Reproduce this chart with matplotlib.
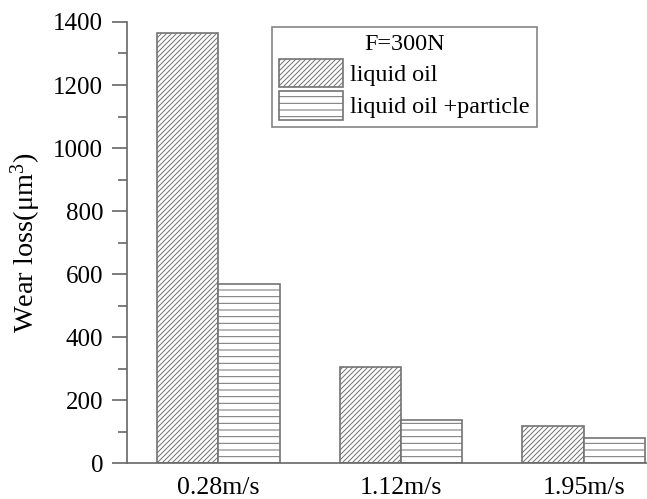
import numpy as np
import matplotlib
matplotlib.use("Agg")
import matplotlib.pyplot as plt
from matplotlib.ticker import MultipleLocator

# wear loss (um^3) at F=300N
speeds = ["0.28m/s", "1.12m/s", "1.95m/s"]
oil = [1365, 305, 119]
oil_particle = [570, 137, 79]
series_names = ["liquid oil", "liquid oil +particle"]

plt.rcParams['font.family'] = ['Liberation Serif', 'DejaVu Serif']
plt.rcParams['mathtext.fontset'] = 'custom'
plt.rcParams['mathtext.rm'] = 'Liberation Serif'
plt.rcParams['mathtext.it'] = 'Liberation Serif'
plt.rcParams['hatch.linewidth'] = 0.6

DPI = 120
fig = plt.figure(figsize=(647 / DPI, 499 / DPI), dpi=DPI)
ax = fig.add_axes([0.1958, 0.0716, 0.8042, 0.8844])

grey = '0.45'
x = np.arange(len(speeds))
w = 0.336
b1 = ax.bar(x - w / 2, oil, w, color='white', edgecolor=grey, hatch='////////',
            linewidth=1.0, label=series_names[0])
b2 = ax.bar(x + w / 2, oil_particle, w, color='white', edgecolor=grey, hatch='---',
            linewidth=1.0, label=series_names[1])

ax.set_xlim(-0.5, 2.345)
ax.set_ylim(0, 1400)
ax.set_xticks(x)
ax.set_xticklabels(speeds)
ax.yaxis.set_major_locator(MultipleLocator(200))
ax.yaxis.set_minor_locator(MultipleLocator(100))

for s in ['top', 'right']:
    ax.spines[s].set_visible(False)
for s in ['left', 'bottom']:
    ax.spines[s].set_color('0.4')
    ax.spines[s].set_linewidth(1.0)

ax.tick_params(axis='y', which='major', length=9, width=1, color='0.4',
               labelsize=15, pad=5)
ax.tick_params(axis='y', which='minor', length=5.4, width=1, color='0.4')
ax.tick_params(axis='x', length=0, labelsize=15.5, pad=8)

ax.set_ylabel("Wear loss(μm$^{3}$)", fontsize=17, labelpad=6)

leg = ax.legend(loc='upper left', bbox_to_anchor=(0.279, 0.989), title='F=300N',
                fontsize=14.5, title_fontsize=14.5, fancybox=False, frameon=True,
                edgecolor='0.4', handlelength=2.65, handleheight=1.45,
                handletextpad=0.3, labelspacing=0.15, borderpad=0.3,
                borderaxespad=0)
leg.get_frame().set_linewidth(1.0)

fig.savefig("out.png", dpi=DPI)
